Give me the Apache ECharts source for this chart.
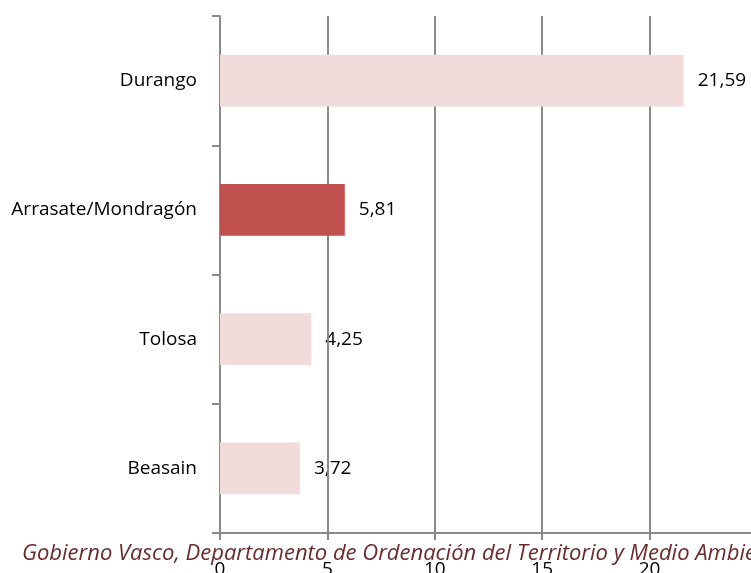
<!DOCTYPE html>
<html>
<head>
<meta charset="utf-8">
<script src="https://cdn.jsdelivr.net/npm/echarts@6/dist/echarts.min.js"></script>
<style>
  html, body { margin: 0; padding: 0; background: #ffffff; }
  #chart { width: 751px; height: 573px; }
</style>
</head>
<body>
<div id="chart"></div>
<script>
// Municipalities, top to bottom
const categories = ['Durango', 'Arrasate/Mondragón', 'Tolosa', 'Beasain'];
// Values per municipality
const values = [21.59, 5.81, 4.25, 3.72];
// Municipality drawn in the accent colour
const highlighted = 'Arrasate/Mondragón';
// Value axis range and step
const axisMin = 0;
const axisMax = 25;
const axisStep = 5;
// Source note under the chart
const sourceNote = 'Gobierno Vasco, Departamento de Ordenación del Territorio y Medio Ambiente';

const FONT = 'Open Sans';
const GRID_COLOR = '#8a8a8a';
const BAR_LIGHT = '#f2dcdb';
const BAR_ACCENT = '#c0504d';

const fmt = v => v.toFixed(2).replace('.', ',');

const chart = echarts.init(document.getElementById('chart'), null, { renderer: 'canvas' });

chart.setOption({
  animation: false,
  backgroundColor: '#ffffff',
  grid: { left: 220, top: 16, width: 537, bottom: 40, containLabel: false, outerBoundsMode: 'none' },
  xAxis: {
    type: 'value',
    min: axisMin,
    max: axisMax,
    interval: axisStep,
    z: 2,
    axisLine: { show: true, lineStyle: { color: GRID_COLOR, width: 2 } },
    axisTick: { show: true, length: 7, lineStyle: { color: GRID_COLOR, width: 2 } },
    splitLine: { show: true, lineStyle: { color: GRID_COLOR, width: 2 } },
    axisLabel: { margin: 27, color: '#000', fontFamily: FONT, fontSize: 19, showMaxLabel: false }
  },
  yAxis: {
    type: 'category',
    data: categories,
    inverse: true,
    z: 2,
    axisLine: { show: true, lineStyle: { color: GRID_COLOR, width: 2 } },
    axisTick: { show: true, length: 8, lineStyle: { color: GRID_COLOR, width: 2 } },
    axisLabel: { margin: 23, color: '#000', fontFamily: FONT, fontSize: 19 }
  },
  series: [
    {
      // value labels, kept beneath the grid lines
      type: 'bar',
      data: values,
      barWidth: '40%',
      barGap: '-100%',
      z: 1,
      silent: true,
      itemStyle: { color: 'rgba(0,0,0,0)' },
      label: {
        show: true,
        position: 'right',
        distance: 14,
        color: '#000',
        fontFamily: FONT,
        fontSize: 19,
        formatter: p => fmt(p.value)
      }
    },
    {
      type: 'bar',
      data: values.map((v, i) => ({
        value: v,
        itemStyle: { color: categories[i] === highlighted ? BAR_ACCENT : BAR_LIGHT }
      })),
      barWidth: '40%',
      barGap: '-100%',
      z: 3,
      label: { show: false }
    }
  ],
  graphic: [
    {
      type: 'text',
      left: 22,
      top: 543,
      z: 10,
      style: {
        text: sourceNote,
        fill: '#6b2a2c',
        font: 'italic 22px "' + FONT + '"'
      }
    }
  ]
});
</script>
</body>
</html>
